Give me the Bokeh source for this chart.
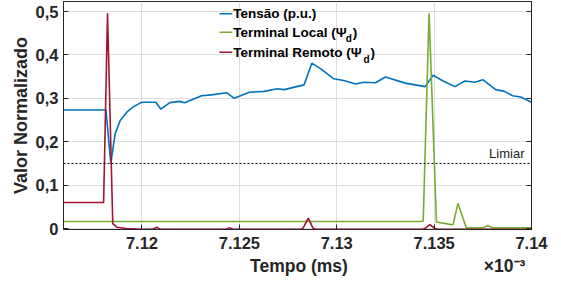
from bokeh.plotting import figure
from bokeh.models import FixedTicker, LinearAxis, Span
from bokeh.core.properties import value
from bokeh.embed import file_html
from bokeh.resources import INLINE

# ---- data (time in ms, values normalised) ----
t_tensao = [7.11597, 7.11815, 7.1184, 7.11862, 7.11888, 7.11922, 7.11954, 7.1199,
            7.12, 7.12071, 7.12097, 7.12143, 7.12194, 7.12219, 7.12306, 7.12357,
            7.12434, 7.12474, 7.12551, 7.12628, 7.12694, 7.1273, 7.12832, 7.12872,
            7.12918, 7.12985, 7.13036, 7.13097, 7.13138, 7.13199, 7.1325, 7.13352,
            7.13454, 7.13495, 7.13546, 7.13607, 7.13658, 7.13709, 7.1375, 7.13816,
            7.13862, 7.13903, 7.13944, 7.14]
v_tensao = [0.273, 0.273, 0.150, 0.218, 0.249, 0.268, 0.280, 0.289,
            0.291, 0.291, 0.275, 0.290, 0.293, 0.290, 0.306, 0.308,
            0.313, 0.300, 0.314, 0.316, 0.322, 0.320, 0.331, 0.381,
            0.368, 0.345, 0.341, 0.333, 0.337, 0.336, 0.349, 0.335,
            0.327, 0.353, 0.340, 0.327, 0.340, 0.337, 0.343, 0.320,
            0.316, 0.306, 0.303, 0.291]

t_local = [7.11597, 7.13435, 7.13444, 7.13474, 7.13512, 7.13589, 7.13597, 7.13622,
           7.13665, 7.1375, 7.13776, 7.138, 7.14]
v_local = [0.016, 0.016, 0.018, 0.496, 0.015, 0.009, 0.0085, 0.058,
           0.0015, 0.0015, 0.007, 0.0015, 0.0015]

t_remoto = [7.11597, 7.11803, 7.11823, 7.1185, 7.11871, 7.1192, 7.12, 7.12055,
            7.12075, 7.12095, 7.1243, 7.12449, 7.12468, 7.12815, 7.12827, 7.12854,
            7.12878, 7.1289, 7.1344, 7.13453, 7.13478, 7.13504, 7.1352, 7.14]
v_remoto = [0.060, 0.060, 0.496, 0.011, 0.003, 0.000, -0.002, -0.002,
            0.003, -0.002, -0.002, 0.002, -0.002, -0.002, 0.001, 0.024,
            0.001, -0.002, -0.002, 0.000, 0.009, 0.000, -0.002, -0.002]

limiar = 0.15

x_ticks = [7.12, 7.125, 7.13, 7.135, 7.14]
x_tick_labels = ["7.12", "7.125", "7.13", "7.135", "7.14"]
y_ticks = [0, 0.1, 0.2, 0.3, 0.4, 0.5]
y_tick_labels = ["0", "0,1", "0,2", "0,3", "0,4", "0,5"]

x_title = "Tempo (ms)"
x_exponent = "×10⁻³"
x_title_pos = [7.12806, 7.13862]   # where the x title and the exponent sit

series_names = ["Tensão (p.u.)", "Terminal Local (Ψ", "Terminal Remoto (Ψ"]
colors = ["#0072BD", "#77AC30", "#A2142F"]

FONT = "Liberation Sans"
AX = "#262626"

p = figure(width=561, height=288, output_backend="svg", toolbar_location=None,
           x_range=(7.11597, 7.14), y_range=(-0.0023, 0.5231),
           min_border_left=63, min_border_right=30, min_border_top=1,
           min_border_bottom=59, background_fill_color="white")
p.outline_line_color = AX
p.outline_line_width = 1

# axes
p.xaxis.ticker = FixedTicker(ticks=x_ticks)
p.xaxis.major_label_overrides = dict(zip(x_ticks, x_tick_labels))
p.yaxis.ticker = FixedTicker(ticks=y_ticks)
p.yaxis.major_label_overrides = dict(zip(y_ticks, y_tick_labels))
for ax in (p.xaxis[0], p.yaxis[0]):
    ax.axis_line_color = AX
    ax.major_tick_line_color = AX
    ax.major_tick_in = 5
    ax.major_tick_out = 0
    ax.minor_tick_line_color = None
    ax.major_label_text_font = FONT
    ax.major_label_text_font_style = "bold"
    ax.major_label_text_font_size = "16.5px"
    ax.major_label_text_color = AX
    ax.axis_label_text_font = FONT
    ax.axis_label_text_font_style = "bold"
    ax.axis_label_text_font_size = "18px"
    ax.axis_label_text_color = AX
p.yaxis.axis_label = "Valor Normalizado"
p.xaxis.major_label_standoff = 7
p.yaxis.major_label_standoff = 5
p.yaxis.axis_label_standoff = 2

# x title + exponent on a second, invisible bottom axis
title_axis = LinearAxis(ticker=FixedTicker(ticks=x_title_pos),
                        major_label_overrides=dict(zip(x_title_pos, [x_title, x_exponent])),
                        axis_line_color=None, major_tick_line_color=None,
                        minor_tick_line_color=None, major_tick_in=0, major_tick_out=0,
                        major_label_standoff=4, major_label_text_font=FONT,
                        major_label_text_font_style="bold",
                        major_label_text_font_size="17.5px",
                        major_label_text_color=AX)
p.add_layout(title_axis, "below")

right = LinearAxis(ticker=FixedTicker(ticks=y_ticks),
                   major_label_overrides={t: "" for t in y_ticks},
                   major_tick_in=5, major_tick_out=0, minor_tick_line_color=None,
                   axis_line_color=AX, major_tick_line_color=AX)
p.add_layout(right, "right")

p.grid.grid_line_color = "#dedede"
p.xgrid.ticker = FixedTicker(ticks=x_ticks)
p.ygrid.ticker = FixedTicker(ticks=y_ticks)

# data lines
p.line(t_tensao, v_tensao, line_color=colors[0], line_width=1.6)
p.line(t_local, v_local, line_color=colors[1], line_width=1.6)
p.line(t_remoto, v_remoto, line_color=colors[2], line_width=1.6)

# threshold
p.add_layout(Span(location=limiar, dimension="width", line_color="black",
                  line_dash="2 2", line_width=1))
p.text(x=[7.13964], y=[0.172], text=["Limiar"], text_align="right",
       text_baseline="middle", text_font=value(FONT), text_font_size="13px",
       text_color="#202020")

# legend (manual)
leg_y = [0.4947, 0.4523, 0.4062]
p.segment(x0=[7.12398] * 3, y0=leg_y, x1=[7.12464] * 3, y1=leg_y,
          line_color=colors, line_width=1.6)
p.text(x=[7.12469] * 3, y=leg_y, text=series_names, text_align="left",
       text_baseline="middle", text_font=value(FONT), text_font_style="bold",
       text_font_size="13.5px", text_color="black")
p.text(x=[7.13046, 7.13138], y=[leg_y[1] - 0.014, leg_y[2] - 0.016], text=["d", "d"],
       text_align="left", text_baseline="middle", text_font=value(FONT),
       text_font_style="bold", text_font_size="10px", text_color="black")
p.text(x=[7.13082, 7.13173], y=[leg_y[1], leg_y[2]], text=[")", ")"],
       text_align="left", text_baseline="middle", text_font=value(FONT),
       text_font_style="bold", text_font_size="13.5px", text_color="black")

open("out.html", "w").write(file_html(p, INLINE))
